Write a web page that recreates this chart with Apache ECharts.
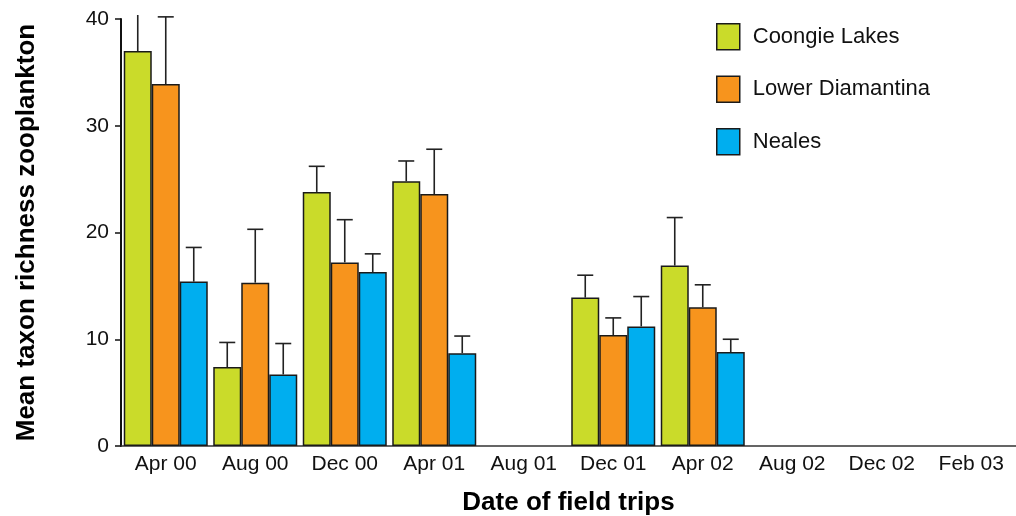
<!DOCTYPE html>
<html>
<head>
<meta charset="utf-8">
<script src="https://cdn.jsdelivr.net/npm/echarts@6/dist/echarts.min.js"></script>
<style>
  html, body { margin: 0; padding: 0; background: #fff; }
  #chart { width: 1016px; height: 516px; }
</style>
</head>
<body>
<div id="chart"></div>
<script>
// Field trip dates
const categories = ['Apr 00', 'Aug 00', 'Dec 00', 'Apr 01', 'Aug 01', 'Dec 01', 'Apr 02', 'Aug 02', 'Dec 02', 'Feb 03'];

// Mean taxon richness per region (null = no sample)
const coongie = [37.0, 7.4, 23.8, 24.8, null, 13.9, 16.9, null, null, null];
const lowerDiamantina = [33.9, 15.3, 17.2, 23.6, null, 10.4, 13.0, null, null, null];
const neales = [15.4, 6.7, 16.3, 8.7, null, 11.2, 8.8, null, null, null];

// Standard errors (upper whisker length)
const coongieSE = [5.0, 2.3, 2.4, 1.9, null, 2.1, 4.5, null, null, null];
const lowerDiamantinaSE = [6.3, 5.0, 4.0, 4.2, null, 1.6, 2.1, null, null, null];
const nealesSE = [3.2, 2.9, 1.7, 1.6, null, 2.8, 1.2, null, null, null];

const yTicks = [0, 10, 20, 30, 40];

const seriesNames = ['Coongie Lakes', 'Lower Diamantina', 'Neales'];
const colors = ['#cadb2a', '#f7941d', '#00aeef'];
const means = [coongie, lowerDiamantina, neales];
const ses = [coongieSE, lowerDiamantinaSE, nealesSE];

const BAR_W = 28;
const CAP_HALF = 8;
const FONT = '"Liberation Sans", Arial, sans-serif';

const chart = echarts.init(document.getElementById('chart'));

const barSeries = seriesNames.map((name, k) => ({
  name,
  type: 'bar',
  data: means[k],
  barWidth: BAR_W,
  barGap: '0%',
  itemStyle: { color: colors[k], borderColor: '#1a1a1a', borderWidth: 1.5 },
  z: 2
}));

// Upper error whiskers with a cap, placed over each bar
const errorSeries = seriesNames.map((name, k) => ({
  type: 'custom',
  name: name + ' SE',
  data: means[k].map((m, i) => (m == null ? [i, null, null] : [i, m, m + ses[k][i]])),
  clip: false,
  z: 3,
  silent: true,
  renderItem(params, api) {
    if (api.value(1) == null || isNaN(api.value(1))) return null;
    const base = api.coord([api.value(0), api.value(1)]);
    const top = api.coord([api.value(0), api.value(2)]);
    const x = base[0] + (k - 1) * BAR_W;
    const limit = params.coordSys.y - 4;
    const clipped = top[1] < limit;
    const yTop = clipped ? limit : top[1];
    const style = { stroke: '#222', lineWidth: 1.6 };
    const children = [
      { type: 'line', shape: { x1: x, y1: base[1], x2: x, y2: yTop }, style }
    ];
    if (!clipped) {
      children.push({ type: 'line', shape: { x1: x - CAP_HALF, y1: yTop, x2: x + CAP_HALF, y2: yTop }, style });
    }
    return { type: 'group', children };
  }
}));

chart.setOption({
  animation: false,
  backgroundColor: '#fff',
  textStyle: { fontFamily: FONT },
  grid: { left: 121, right: 0, top: 19, bottom: 70, outerBoundsMode: 'none', containLabel: false },
  legend: {
    data: seriesNames,
    orient: 'vertical',
    left: 716,
    top: 23,
    padding: 0,
    itemWidth: 23,
    itemHeight: 26,
    itemGap: 25,
    icon: 'rect',
    itemStyle: { borderColor: '#1a1a1a', borderWidth: 1.5 },
    textStyle: { fontSize: 22, color: '#111', fontFamily: FONT, padding: [0, 0, 0, 8] }
  },
  xAxis: {
    type: 'category',
    data: categories,
    name: 'Date of field trips',
    nameLocation: 'middle',
    nameGap: 44,
    nameTextStyle: { fontSize: 26, fontWeight: 'bold', color: '#000', fontFamily: FONT },
    axisLine: { lineStyle: { color: '#333', width: 1.5 } },
    axisTick: { interval: 0, length: 8, lineStyle: { color: '#333', width: 1.5 } },
    axisLabel: { interval: 0, hideOverlap: false, fontSize: 21, color: '#111', margin: 8, fontFamily: FONT }
  },
  yAxis: {
    type: 'value',
    min: yTicks[0],
    max: yTicks[yTicks.length - 1],
    interval: 10,
    name: 'Mean taxon richness zooplankton',
    nameLocation: 'middle',
    nameGap: 81,
    nameTextStyle: { fontSize: 26, fontWeight: 'bold', color: '#000', fontFamily: FONT },
    splitLine: { show: false },
    axisLine: { show: true, lineStyle: { color: '#111', width: 2 } },
    axisTick: { show: true, length: 6, lineStyle: { color: '#111', width: 1.5 } },
    axisLabel: { fontSize: 21, color: '#111', margin: 12, fontFamily: FONT }
  },
  series: [...barSeries, ...errorSeries]
});
</script>
</body>
</html>
